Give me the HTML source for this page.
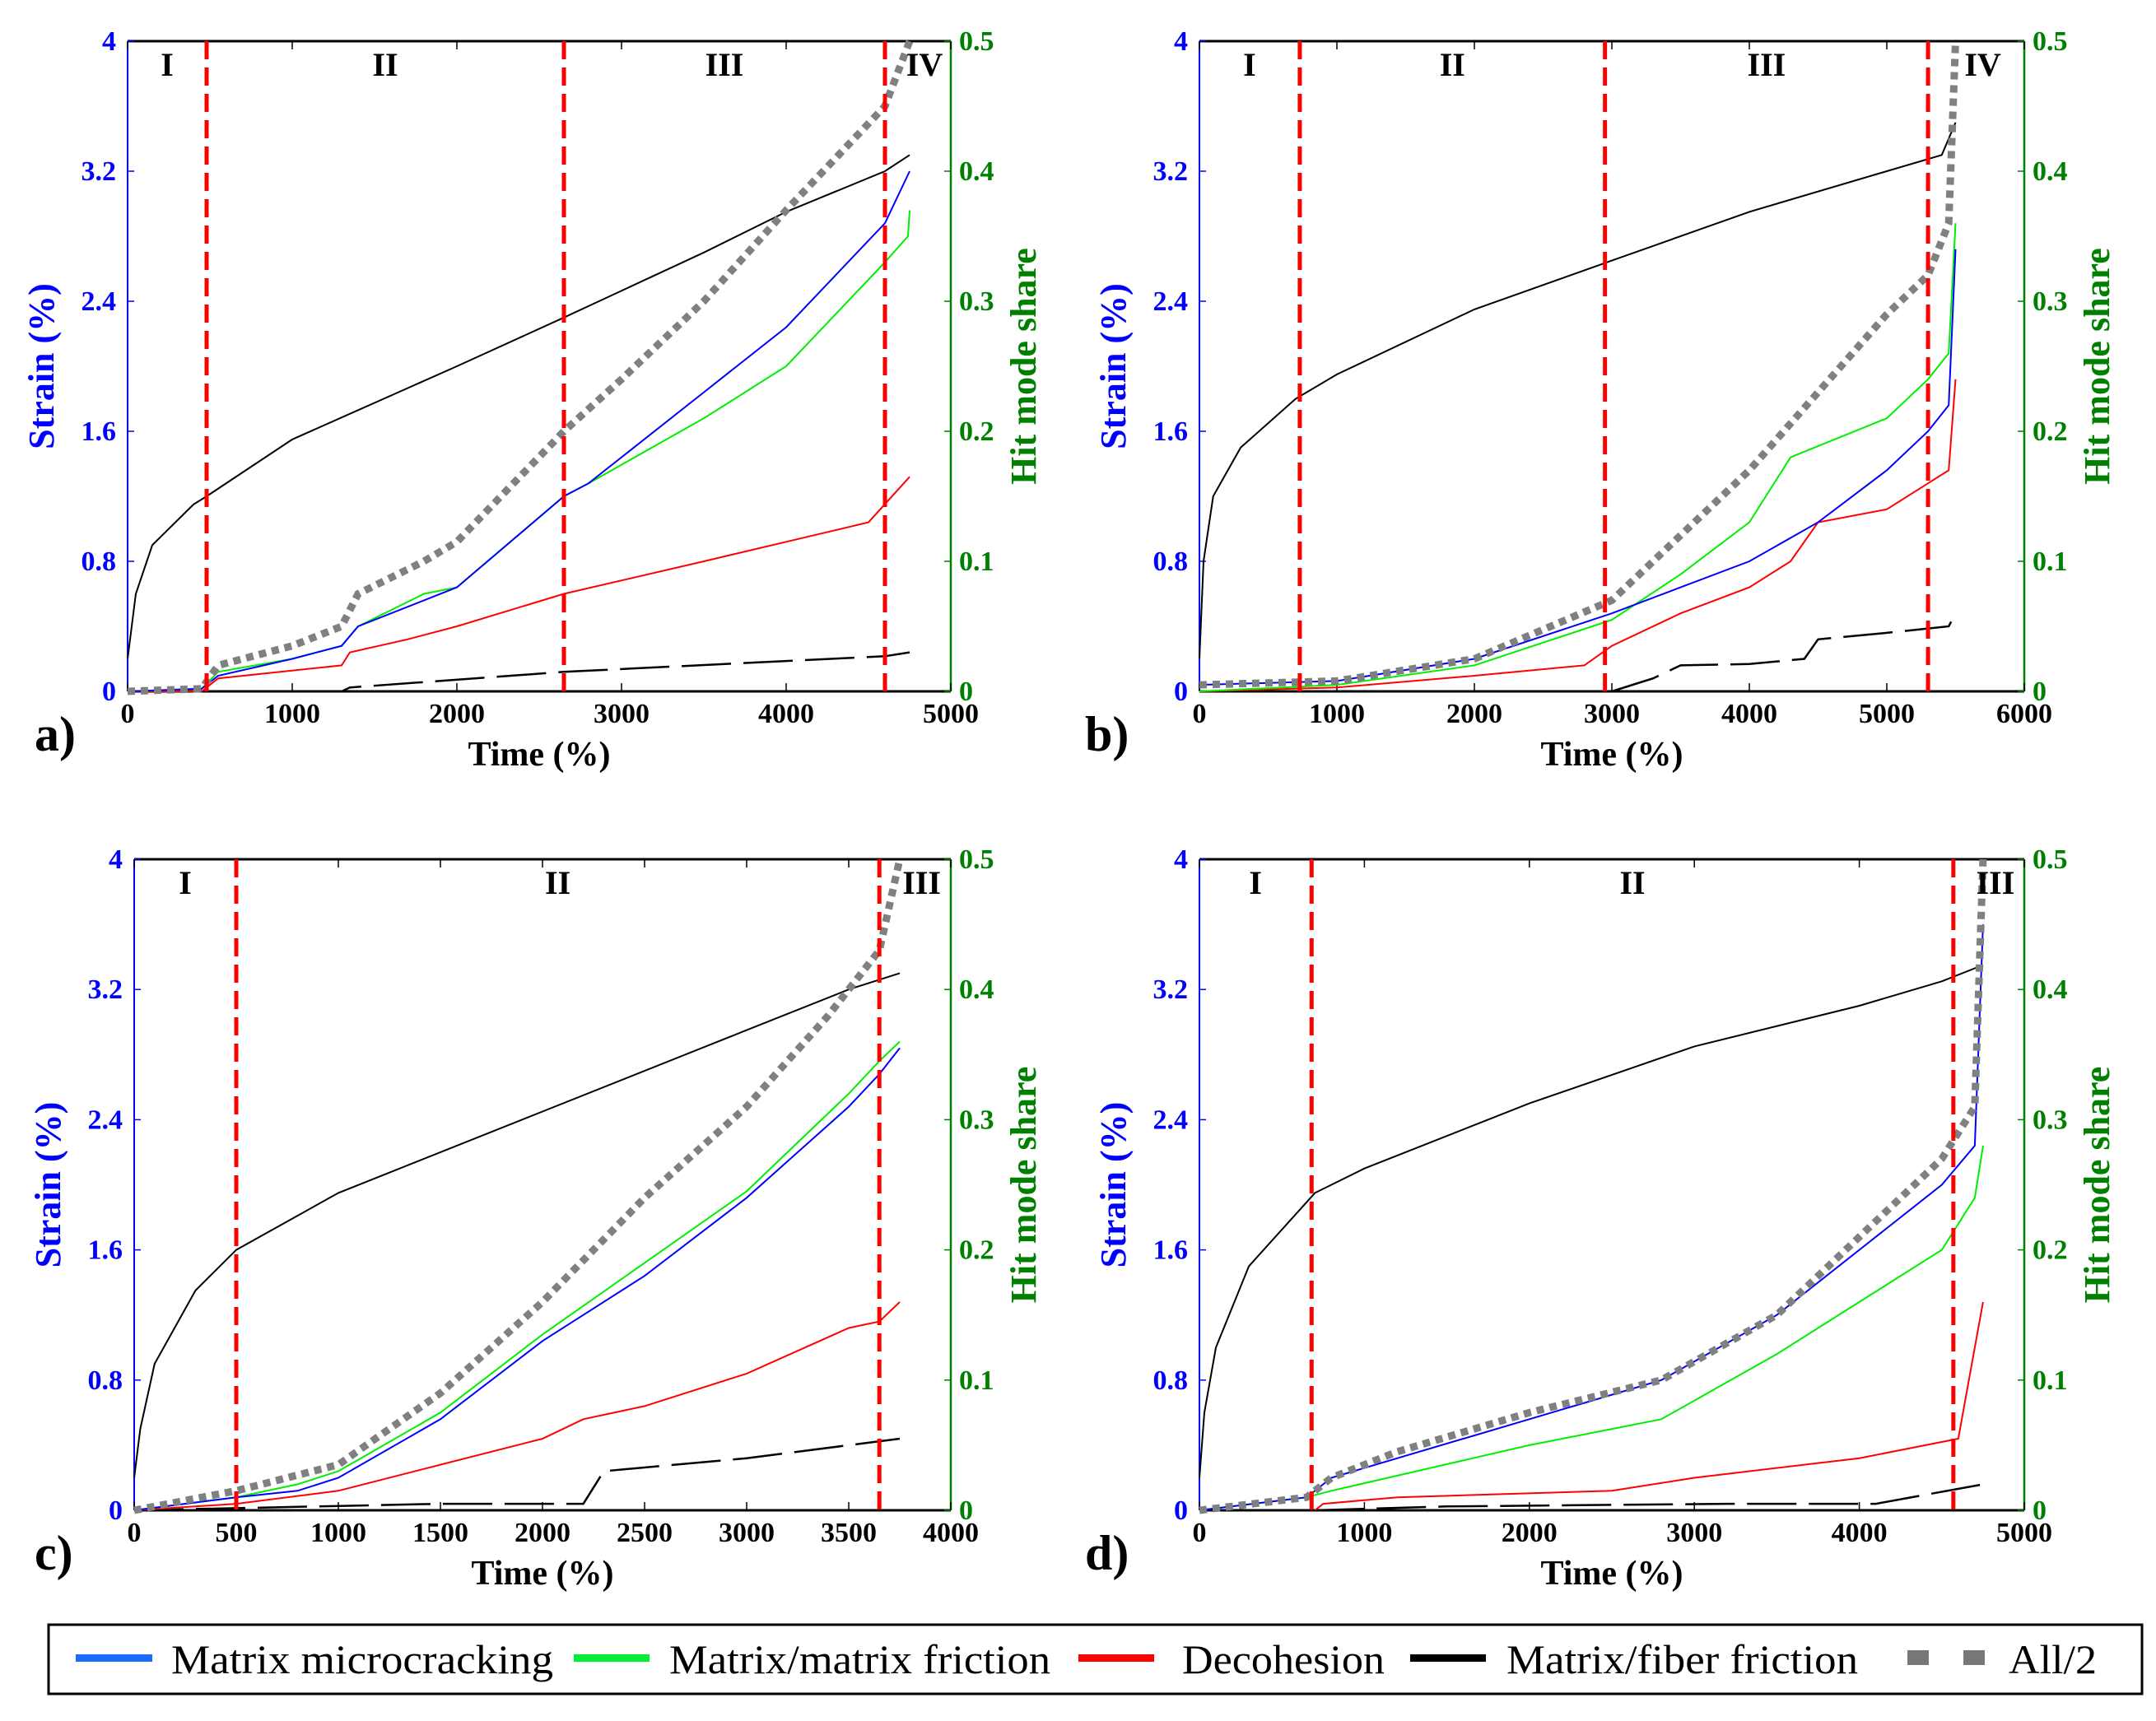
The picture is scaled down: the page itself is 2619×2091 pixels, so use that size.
<!DOCTYPE html>
<html><head><meta charset="utf-8"><style>
html,body{margin:0;padding:0;background:#fff}
svg{display:block}
text{font-family:"Liberation Serif","DejaVu Serif",serif}
</style></head><body>
<svg id="fig" width="2619" height="2091" viewBox="0 0 2619 2091" xmlns="http://www.w3.org/2000/svg" font-family="Liberation Serif, serif">
<g id="panels"></g>
<g font-family="Liberation Serif, serif">
<rect x="59" y="1974" width="2543" height="84" fill="#fff" stroke="#000" stroke-width="3"/>
<g><rect x="92" y="2010" width="93" height="9" fill="#1a6cff"/><text x="208" y="2033" font-size="50" textLength="464" lengthAdjust="spacingAndGlyphs" font-family="Liberation Serif, serif">Matrix microcracking</text></g>
<g><rect x="697" y="2010" width="92" height="9" fill="#00ee33"/><text x="813" y="2033" font-size="50" textLength="463" lengthAdjust="spacingAndGlyphs" font-family="Liberation Serif, serif">Matrix/matrix friction</text></g>
<g><rect x="1310" y="2010" width="92" height="9" fill="#ff0000"/><text x="1436" y="2033" font-size="50" textLength="246" lengthAdjust="spacingAndGlyphs" font-family="Liberation Serif, serif">Decohesion</text></g>
<g><rect x="1713" y="2010" width="92" height="9" fill="#000"/><text x="1830" y="2033" font-size="50" textLength="427" lengthAdjust="spacingAndGlyphs" font-family="Liberation Serif, serif">Matrix/fiber friction</text></g>
<g><rect x="2317" y="2005" width="26" height="18" fill="#777"/><rect x="2385" y="2005" width="26" height="18" fill="#777"/><text x="2440" y="2033" font-size="50" textLength="107" lengthAdjust="spacingAndGlyphs" font-family="Liberation Serif, serif">All/2</text></g>
</g>
</svg>
<script>
// Panel a data
const aBlackStrainX=[0,50,150,400,480,1000,2000,2650,3500,4000,4600,4750];
const aBlackStrainY=[0.2,0.6,0.9,1.15,1.2,1.55,2.0,2.3,2.7,2.95,3.2,3.3];
const aBlueX=[0,450,550,1000,1300,1400,1800,2000,2650,2800,3500,4000,4600,4750];
const aBlueY=[0,0.002,0.012,0.025,0.035,0.05,0.07,0.08,0.15,0.16,0.23,0.28,0.36,0.40];
const aGreenX=[0,450,550,1000,1300,1400,1800,2000,2650,2800,3500,4000,4600,4740,4750];
const aGreenY=[0,0.002,0.015,0.025,0.035,0.05,0.075,0.08,0.15,0.16,0.21,0.25,0.33,0.35,0.37];
const aRedX=[0,450,550,1300,1350,1700,2000,2650,3500,4000,4500,4750];
const aRedY=[0,0,0.01,0.02,0.03,0.04,0.05,0.075,0.1,0.115,0.13,0.165];
const aFiberX=[0,1300,1350,2650,4600,4750];
const aFiberY=[0,0,0.003,0.015,0.027,0.03];
const aAllX=[0,450,550,1000,1300,1400,1800,2000,2650,3000,3500,4000,4600,4750];
const aAllY=[0,0.002,0.02,0.035,0.05,0.075,0.1,0.115,0.2,0.24,0.3,0.37,0.45,0.5];
const aDividers=[480,2650,4600];
const aRegions=["I","II","III","IV"];
const aXTicks=[0,1000,2000,3000,4000,5000];
// Panel b data
const bBlackStrainX=[0,30,100,300,700,1000,2000,3000,4000,5000,5400,5500];
const bBlackStrainY=[0.2,0.8,1.2,1.5,1.8,1.95,2.35,2.65,2.95,3.2,3.3,3.5];
const bBlueX=[0,1000,2000,3000,3500,4000,4500,5000,5300,5450,5500];
const bBlueY=[0.005,0.008,0.025,0.06,0.08,0.1,0.13,0.17,0.2,0.22,0.34];
const bGreenX=[0,1000,2000,3000,3500,4000,4300,5000,5300,5450,5500];
const bGreenY=[0,0.005,0.02,0.055,0.09,0.13,0.18,0.21,0.24,0.26,0.36];
const bRedX=[0,1000,2000,2800,3000,3500,4000,4300,4500,5000,5300,5450,5500];
const bRedY=[0,0.003,0.012,0.02,0.035,0.06,0.08,0.1,0.13,0.14,0.16,0.17,0.24];
const bFiberX=[3000,3300,3500,4000,4400,4500,5000,5450,5500];
const bFiberY=[0,0.01,0.02,0.021,0.025,0.04,0.045,0.05,0.06];
const bAllX=[0,1000,2000,3000,3500,4000,4500,5000,5300,5450,5500];
const bAllY=[0.005,0.008,0.025,0.07,0.12,0.17,0.23,0.29,0.32,0.36,0.5];
const bDividers=[730,2950,5300];
const bRegions=["I","II","III","IV"];
const bXTicks=[0,1000,2000,3000,4000,5000,6000];
// Panel c data
const cBlackStrainX=[0,30,100,300,500,1000,2000,3000,3500,3750];
const cBlackStrainY=[0.2,0.5,0.9,1.35,1.6,1.95,2.45,2.95,3.2,3.3];
const cBlueX=[0,500,800,1000,1500,2000,2500,3000,3500,3650,3750];
const cBlueY=[0,0.01,0.015,0.025,0.07,0.13,0.18,0.24,0.31,0.335,0.355];
const cGreenX=[0,500,800,1000,1500,2000,2500,3000,3500,3650,3750];
const cGreenY=[0,0.01,0.02,0.03,0.075,0.135,0.19,0.245,0.32,0.345,0.36];
const cRedX=[0,500,1000,1500,2000,2200,2500,3000,3500,3650,3750];
const cRedY=[0,0.005,0.015,0.035,0.055,0.07,0.08,0.105,0.14,0.145,0.16];
const cFiberX=[0,1500,2200,2300,3000,3500,3750];
const cFiberY=[0,0.005,0.005,0.03,0.04,0.05,0.055];
const cAllX=[0,500,1000,1500,2000,2500,3000,3400,3650,3750];
const cAllY=[0,0.015,0.035,0.09,0.16,0.24,0.31,0.38,0.43,0.5];
const cDividers=[500,3650];
const cRegions=["I","II","III"];
const cXTicks=[0,500,1000,1500,2000,2500,3000,3500,4000];
// Panel d data
const dBlackStrainX=[0,30,100,300,700,1000,2000,3000,4000,4500,4750];
const dBlackStrainY=[0.2,0.6,1.0,1.5,1.95,2.1,2.5,2.85,3.1,3.25,3.35];
const dBlueX=[0,650,800,1200,2000,2800,3500,4000,4500,4700,4750];
const dBlueY=[0,0.01,0.025,0.04,0.07,0.1,0.15,0.2,0.25,0.28,0.45];
const dGreenX=[0,650,800,2000,2800,3500,4000,4500,4700,4750];
const dGreenY=[0,0.01,0.015,0.05,0.07,0.12,0.16,0.2,0.24,0.28];
const dRedX=[700,750,1200,2500,3000,4000,4600,4750];
const dRedY=[0,0.005,0.01,0.015,0.025,0.04,0.055,0.16];
const dFiberX=[700,1500,3200,4100,4750];
const dFiberY=[0,0.003,0.005,0.005,0.02];
const dAllX=[0,650,800,1200,2000,2800,3500,4000,4500,4700,4750];
const dAllY=[0,0.01,0.025,0.045,0.075,0.1,0.15,0.21,0.27,0.31,0.5];
const dDividers=[680,4570];
const dRegions=["I","II","III"];
const dXTicks=[0,1000,2000,3000,4000,5000];
const strainTicks=["0","0.8","1.6","2.4","3.2","4"];
const shareTicks=["0","0.1","0.2","0.3","0.4","0.5"];

const NS="http://www.w3.org/2000/svg";
const FF="Liberation Serif, serif";
const root=document.getElementById('panels');
function mk(tag,attrs,parent){const e=document.createElementNS(NS,tag);for(const k in attrs)e.setAttribute(k,attrs[k]);if(tag==='text')e.setAttribute('font-family',FF);parent.appendChild(e);return e;}

const panels=[
 {id:'a',L:155,R:1155,T:50,B:840,xmax:5000,xt:aXTicks,div:aDividers,reg:aRegions,bs:[aBlackStrainX,aBlackStrainY],bl:[aBlueX,aBlueY],gr:[aGreenX,aGreenY],rd:[aRedX,aRedY],fb:[aFiberX,aFiberY],al:[aAllX,aAllY]},
 {id:'b',L:1457,R:2459,T:50,B:840,xmax:6000,xt:bXTicks,div:bDividers,reg:bRegions,bs:[bBlackStrainX,bBlackStrainY],bl:[bBlueX,bBlueY],gr:[bGreenX,bGreenY],rd:[bRedX,bRedY],fb:[bFiberX,bFiberY],al:[bAllX,bAllY]},
 {id:'c',L:163,R:1155,T:1044,B:1835,xmax:4000,xt:cXTicks,div:cDividers,reg:cRegions,bs:[cBlackStrainX,cBlackStrainY],bl:[cBlueX,cBlueY],gr:[cGreenX,cGreenY],rd:[cRedX,cRedY],fb:[cFiberX,cFiberY],al:[cAllX,cAllY]},
 {id:'d',L:1457,R:2459,T:1044,B:1835,xmax:5000,xt:dXTicks,div:dDividers,reg:dRegions,bs:[dBlackStrainX,dBlackStrainY],bl:[dBlueX,dBlueY],gr:[dGreenX,dGreenY],rd:[dRedX,dRedY],fb:[dFiberX,dFiberY],al:[dAllX,dAllY]}
];

panels.forEach(p=>{
 const g=mk('g',{},root);
 
 
 const sx=v=>p.L+(v/p.xmax)*(p.R-p.L);
 const sy1=v=>p.B-(v/4)*(p.B-p.T);
 const sy2=v=>p.B-(v/0.5)*(p.B-p.T);
 const pts=(xs,ys,f)=>xs.map((x,i)=>sx(x).toFixed(1)+','+f(ys[i]).toFixed(1)).join(' ');
 const top=mk('line',{x1:p.L,y1:p.T,x2:p.R,y2:p.T,stroke:'#000','stroke-width':3},g);
 
 const bot=mk('line',{x1:p.L,y1:p.B,x2:p.R,y2:p.B,stroke:'#000','stroke-width':3},g);
 
 const la=mk('line',{x1:p.L,y1:p.T,x2:p.L,y2:p.B,stroke:'#0000ff','stroke-width':2},g);
 
 const ra=mk('line',{x1:p.R,y1:p.T,x2:p.R,y2:p.B,stroke:'#008000','stroke-width':2.5},g);
 
 p.xt.forEach(v=>{
  const x=sx(v);
  mk('line',{x1:x,y1:p.B,x2:x,y2:p.B-10,stroke:'#000','stroke-width':1.5},g);
  mk('line',{x1:x,y1:p.T,x2:x,y2:p.T+10,stroke:'#000','stroke-width':1.5},g);
  const t=mk('text',{x:x,y:p.B+38,'font-size':34,'font-weight':'bold','text-anchor':'middle'},g);
  t.textContent=v;
  
 });
 strainTicks.forEach((s,i)=>{
  const y=sy1(parseFloat(s));
  mk('line',{x1:p.L,y1:y,x2:p.L+8,y2:y,stroke:'#0000ff','stroke-width':1.5},g);
  const t=mk('text',{x:p.L-14,y:y+11,'font-size':34,'font-weight':'bold','text-anchor':'end',fill:'#0000ff'},g);
  t.textContent=s;
  
 });
 shareTicks.forEach(s=>{
  const y=sy2(parseFloat(s));
  mk('line',{x1:p.R,y1:y,x2:p.R-8,y2:y,stroke:'#008000','stroke-width':1.5},g);
  const t=mk('text',{x:p.R+10,y:y+11,'font-size':34,'font-weight':'bold',fill:'#008000'},g);
  t.textContent=s;
  
 });
 const my=(p.T+p.B)/2;
 const yl=mk('text',{x:0,y:0,'font-size':44,'font-weight':'bold',fill:'#0000ff','text-anchor':'middle',transform:`translate(${p.L-90},${my}) rotate(-90)`},g);
 yl.textContent='Strain (%)';
 
 const yr=mk('text',{x:0,y:0,'font-size':44,'font-weight':'bold',fill:'#008000','text-anchor':'middle',transform:`translate(${p.R+103},${my}) rotate(-90)`},g);
 yr.textContent='Hit mode share';
 
 const xl=mk('text',{x:(p.L+p.R)/2,y:p.B+90,'font-size':42,'font-weight':'bold','text-anchor':'middle'},g);
 xl.textContent='Time (%)';
 
 const pl=mk('text',{x:p.id==='a'||p.id==='c'?42:1318,y:p.B+72,'font-size':60,'font-weight':'bold'},g);
 pl.textContent=p.id+')';
 
 const s1=mk('polyline',{points:pts(p.bs[0],p.bs[1],sy1),fill:'none',stroke:'#000','stroke-width':2},g);
 
 const s2=mk('polyline',{points:pts(p.fb[0],p.fb[1],sy2),fill:'none',stroke:'#000','stroke-width':2.5,'stroke-dasharray':'60,15'},g);
 
 const s3=mk('polyline',{points:pts(p.rd[0],p.rd[1],sy2),fill:'none',stroke:'#ff0000','stroke-width':2},g);
 
 const s4=mk('polyline',{points:pts(p.gr[0],p.gr[1],sy2),fill:'none',stroke:'#00ee00','stroke-width':2},g);
 
 const s5=mk('polyline',{points:pts(p.bl[0],p.bl[1],sy2),fill:'none',stroke:'#0000ff','stroke-width':2},g);
 
 const s6=mk('polyline',{points:pts(p.al[0],p.al[1],sy2),fill:'none',stroke:'#808080','stroke-width':9,'stroke-dasharray':'9,7'},g);
 
 const bounds=[0].concat(p.div).concat([p.xmax*0.96]);
 p.div.forEach(v=>{
  const d=mk('line',{x1:sx(v),y1:p.T,x2:sx(v),y2:p.B,stroke:'#ff0000','stroke-width':5,'stroke-dasharray':'22,10'},g);
  
 });
 p.reg.forEach((r,i)=>{
  let cx=(sx(bounds[i])+sx(bounds[i+1]))/2;
  if(i===p.reg.length-1) cx=(sx(p.div[p.div.length-1])+p.R)/2+8;
  const t=mk('text',{x:cx,y:p.T+42,'font-size':40,'font-weight':'bold','text-anchor':'middle'},g);
  t.textContent=r;
  
 });
});
</script>
</body></html>
